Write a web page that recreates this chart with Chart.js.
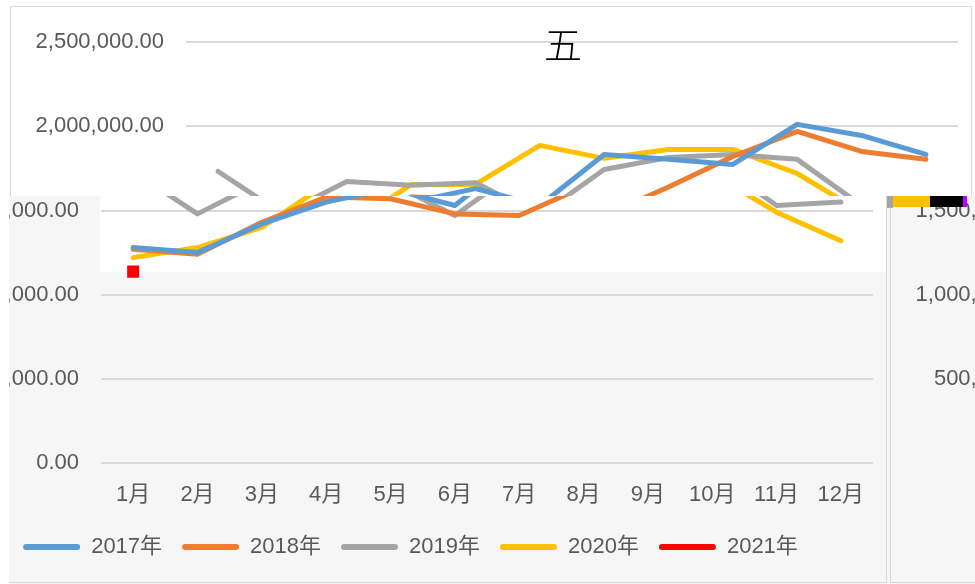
<!DOCTYPE html>
<html><head><meta charset="utf-8">
<script src="https://cdn.jsdelivr.net/npm/chart.js@4.4.1/dist/chart.umd.min.js"></script>
<style>
html,body{margin:0;padding:0;background:#fff;width:975px;height:584px;overflow:hidden;position:relative;}
.clip{position:absolute;overflow:hidden;}
.card{position:absolute;width:962px;height:577px;box-sizing:border-box;border:1px solid #d9d9d9;}
.card canvas{position:absolute;left:0;top:0;}
.art{position:absolute;}
#title{position:absolute;left:538px;top:20px;width:50px;text-align:center;font:300 38px "Noto Sans CJK SC","Noto Sans CJK JP",serif;color:#000;line-height:46px;}
</style></head>
<body>
<div id="top" class="clip" style="left:0;top:0;width:975px;height:196px;">
  <div class="card" style="left:10px;top:6px;background:#fff;"><canvas id="cA" width="960" height="575"></canvas></div>
  <div id="title">五</div>
</div>
<div id="low" class="clip" style="left:9px;top:196px;width:966px;height:388px;background:#f6f6f6;">
  <div class="art" style="left:91px;top:0;width:787px;height:76px;background:#fff;"></div>
  <div class="card" style="left:-84px;top:-190px;"><canvas id="cB" width="960" height="575"></canvas></div>
  <div class="card" style="left:881px;top:-190px;"><canvas id="cC" width="960" height="575"></canvas></div>
  <div class="art" style="left:878px;top:0;width:6px;height:12px;background:#a5a5a5;"></div>
  <div class="art" style="left:884px;top:0;width:37px;height:11px;background:#ffc000;"></div>
  <div class="art" style="left:921px;top:0;width:33px;height:11px;background:#000;"></div>
  <div class="art" style="left:954px;top:0;width:4px;height:11px;background:#c000ff;"></div>
</div>
<script>
const months = ['1月','2月','3月','4月','5月','6月','7月','8月','9月','10月','11月','12月'];
const seriesNames = ['2017年','2018年','2019年','2020年','2021年'];
const seriesColors = ['#5b9bd5','#ed7d31','#a5a5a5','#ffc000','#ff0000'];
const y2017 = [1280000,1250000,1420000,1550000,1630000,1530000,1833000,1805000,1774000,2012000,1946000,1833000];
const y2018 = [1270000,1240000,1430000,1580000,1570000,1480000,1470000,1640000,1821000,1970000,1851000,1804000];
const y2019 = [1732000,1480000,1672000,1650000,1665000,1470000,1744000,1815000,1833000,1804000,1530000,1550000];
const y2020 = [1220000,1280000,1400000,1655000,1655000,1887000,1810000,1863000,1863000,1720000,1490000,1320000];
const y2021 = [1137000,null,null,null,null,null,null,null,null,null,null,null];
const yMin = 0, yMax = 2500000, yStep = 500000;
const allSeries = [y2017,y2018,y2019,y2020,y2021];

const FONT = '"Liberation Sans","Noto Sans CJK SC",sans-serif';
const TXT = '#595959';

function fmt(v){return Number(v).toLocaleString('en-US',{minimumFractionDigits:2,maximumFractionDigits:2});}

function makeChart(id){
  const datasets = allSeries.map((d,i)=>({
    label: seriesNames[i],
    data: d,
    borderColor: seriesColors[i],
    backgroundColor: seriesColors[i],
    borderWidth: 5,
    borderCapStyle:'round',
    borderJoinStyle:'round',
    tension:0,
    pointRadius: i===4 ? 8.5 : 0,
    pointStyle: 'rect',
    pointBorderWidth: 0,
    spanGaps:false
  }));
  return new Chart(document.getElementById(id),{
    type:'line',
    data:{labels:months,datasets},
    options:{
      responsive:false,animation:false,
      layout:{padding:{left:22,right:13,top:34,bottom:14}},
      scales:{
        x:{offset:true,grid:{display:false},border:{display:false},
           ticks:{color:TXT,font:{size:22,family:FONT},padding:11,maxRotation:0,autoSkip:false},
           afterFit(s){s.height=53;}},
        y:{min:yMin,max:yMax,
           ticks:{stepSize:yStep,callback:v=>fmt(v),color:TXT,font:{size:22,family:FONT},padding:22},
           grid:{color:'#d9d9d9',lineWidth:2,drawTicks:false},
           border:{display:false},
           afterFit(s){s.width=153;}}
      },
      plugins:{
        tooltip:{enabled:false},
        title:{display:false},
        legend:{position:'bottom',
          labels:{color:TXT,font:{size:22,family:FONT},boxWidth:57,boxHeight:6,padding:20,
            useBorderRadius:true,borderRadius:3,
            generateLabels(chart){
              return Chart.defaults.plugins.legend.labels.generateLabels(chart).map(l=>Object.assign(l,{lineWidth:0,fillStyle:seriesColors[l.datasetIndex],strokeStyle:seriesColors[l.datasetIndex]}));
            }}}
      }
    }
  });
}
makeChart('cA');makeChart('cB');makeChart('cC');
</script>
</body></html>
